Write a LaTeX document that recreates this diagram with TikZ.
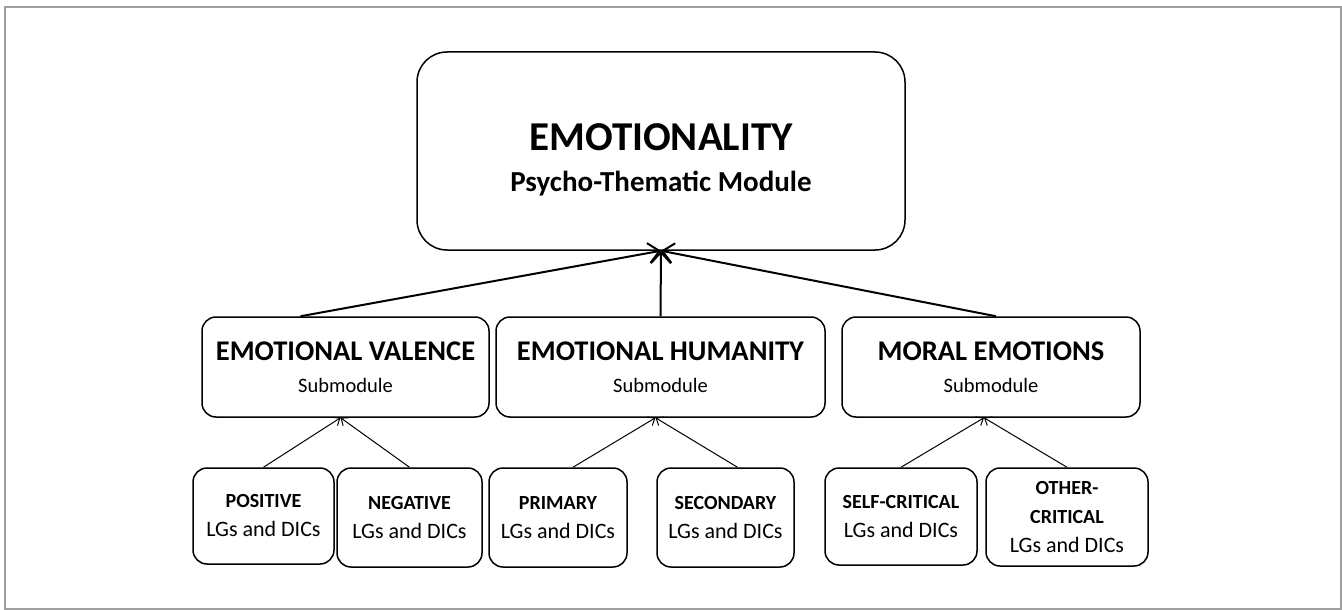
\documentclass[tikz,border=0pt]{standalone}
\usepackage{fontspec}
\setmainfont{Carlito}
\usetikzlibrary{arrows.meta}
\tikzset{
  box/.style={draw,line width=1.5pt,rounded corners=14pt,align=center,inner sep=2pt},
  modbox/.style={box,font=\fontsize{41}{41}\selectfont\bfseries},
  subbox/.style={box,font=\fontsize{28.5}{32}\selectfont},
  lgbox/.style={box,font=\fontsize{20}{29}\selectfont},
  up/.style={line width=2pt,-{Straight Barb[length=11pt,width=20pt,line width=2pt]}},
  upsmall/.style={line width=1pt,-{Straight Barb[length=6pt,width=10pt]}}
}
\newcommand{\lgdic}{\fontsize{22}{29}\selectfont\mdseries LGs and DICs}
\newcommand{\submod}{\fontsize{20.5}{32}\selectfont\mdseries Submodule}
\begin{document}
\begin{tikzpicture}[x=1pt,y=-1pt]
\useasboundingbox (0,0) rectangle (1342,610);
\draw[gray!75,line width=2pt] (5,7) rectangle (1341,609);
% module
\node[modbox,minimum width=488pt,minimum height=198pt,rounded corners=30pt] (top) at (661,151)
  {\rule{0pt}{44pt}EMOTIONALITY\\\fontsize{29}{41}\selectfont Psycho-Thematic Module};
% submodules
\node[subbox,minimum width=287pt,minimum height=100pt] (ev) at (345.5,367)
  {\bfseries EMOTIONAL VALENCE\\\submod};
\node[subbox,minimum width=329pt,minimum height=100pt] (eh) at (660.5,367)
  {\bfseries EMOTIONAL HUMANITY\\\submod};
\node[subbox,minimum width=298pt,minimum height=100pt] (me) at (991,367)
  {\bfseries MORAL EMOTIONS\\\submod};
% LGs and DICs
\node[lgbox,minimum width=141pt,minimum height=96pt] (pos) at (263.5,516)
  {\bfseries POSITIVE\\\lgdic};
\node[lgbox,minimum width=145pt,minimum height=99pt] (neg) at (409.5,517.5)
  {\bfseries NEGATIVE\\\lgdic};
\node[lgbox,minimum width=138pt,minimum height=99pt] (pri) at (558,517.5)
  {\bfseries PRIMARY\\\lgdic};
\node[lgbox,minimum width=137pt,minimum height=99pt] (sec) at (725.5,517.5)
  {\bfseries SECONDARY\\\lgdic};
\node[lgbox,minimum width=152pt,minimum height=97pt] (self) at (901,516.5)
  {\bfseries SELF-CRITICAL\\\lgdic};
\node[lgbox,minimum width=162pt,minimum height=98pt] (oth) at (1067,517)
  {\bfseries OTHER-\\\bfseries CRITICAL\\\lgdic};
% connectors
\draw[up] ([xshift=-45pt]ev.north) -- (top.south);
\draw[up] (eh.north) -- (top.south);
\draw[up] ([xshift=5pt]me.north) -- (top.south);
\draw[upsmall] (pos.north) -- ([xshift=-5pt]ev.south);
\draw[upsmall] (neg.north) -- ([xshift=-5pt]ev.south);
\draw[upsmall] ([xshift=15pt]pri.north) -- ([xshift=-5pt]eh.south);
\draw[upsmall] ([xshift=12pt]sec.north) -- ([xshift=-5pt]eh.south);
\draw[upsmall] (self.north) -- ([xshift=-7pt]me.south);
\draw[upsmall] (oth.north) -- ([xshift=-7pt]me.south);
\end{tikzpicture}
\end{document}
